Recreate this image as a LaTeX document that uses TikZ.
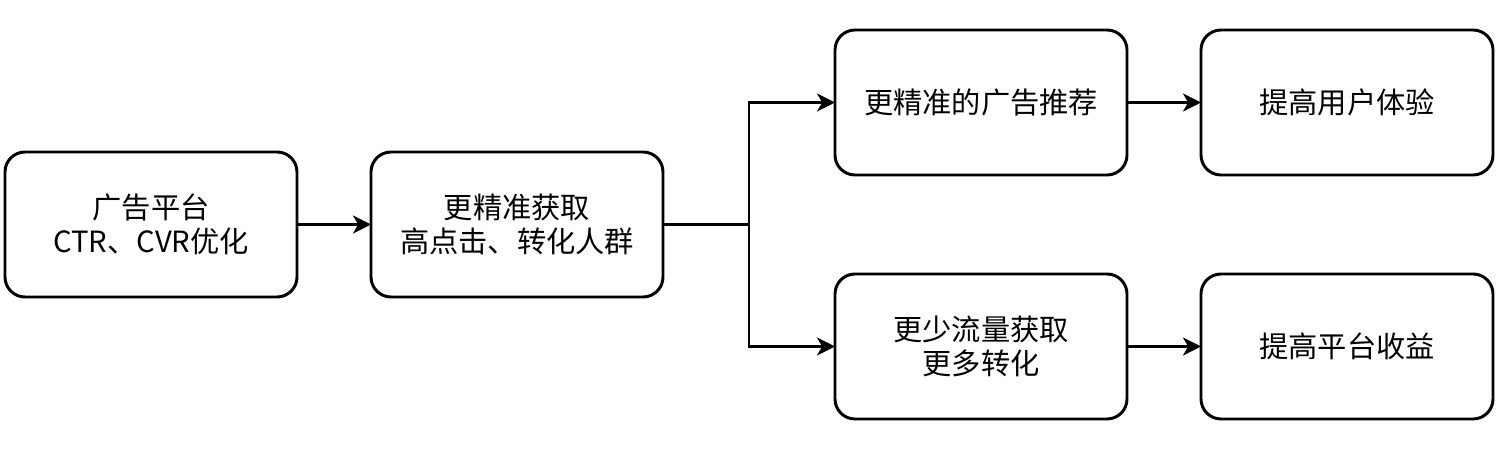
\documentclass[tikz,border=0pt]{standalone}
\usepackage{fontspec}
\setmainfont{Noto Sans CJK SC}
\usetikzlibrary{arrows.meta, positioning}

\begin{document}
\begin{tikzpicture}[
    box/.style={rectangle, rounded corners=0.5cm, draw=black, line width=2.1pt,
                minimum width=7.3cm, minimum height=3.625cm, align=center,
                outer sep=0pt, font=\fontsize{20.8}{24.2}\selectfont},
    arrow/.style={-{Stealth[length=0.45cm, width=0.45cm, inset=0.13cm]}, line width=2.1pt},
    node distance=1.85cm
]
    \useasboundingbox (0,0) rectangle (37.6,-11.3);

    \node[box, anchor=west] (platform) at (0.125,-5.6125) {广告平台\\CTR、CVR优化};
    \node[box, right=of platform] (target) {更精准获取\\高点击、转化人群};
    \node[box, right=4.3cm of target, yshift=3.05cm] (recommend) {更精准的广告推荐};
    \node[box, right=of recommend] (experience) {提高用户体验};
    \node[box, right=4.3cm of target, yshift=-3.05cm] (traffic) {更少流量获取\\更多转化};
    \node[box, right=of traffic] (revenue) {提高平台收益};

    \coordinate[right=2.15cm of target.east] (split);

    \draw[arrow] (platform) -- (target);
    \draw[line width=2.1pt] (target.east) -- (split);
    \draw[arrow] (split) |- (recommend.west);
    \draw[arrow] (split) |- (traffic.west);
    \draw[arrow] (recommend) -- (experience);
    \draw[arrow] (traffic) -- (revenue);
\end{tikzpicture}
\end{document}
